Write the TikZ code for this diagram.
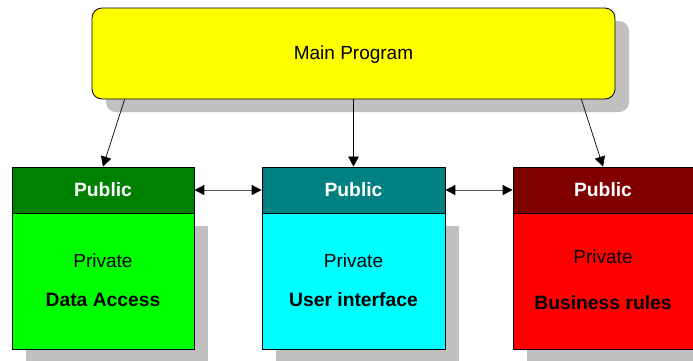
\documentclass[tikz,border=0pt]{standalone}
\usepackage{fontspec}
\setmainfont{Liberation Sans}
\usetikzlibrary{arrows.meta}
\definecolor{shadowgray}{HTML}{C0C0C0}
\definecolor{pubgreen}{HTML}{008000}
\definecolor{privgreen}{HTML}{00FF00}
\definecolor{pubteal}{HTML}{008080}
\definecolor{privcyan}{HTML}{00FFFF}
\definecolor{pubmaroon}{HTML}{800000}
\definecolor{privred}{HTML}{FF0000}
\definecolor{mainyellow}{HTML}{FFFF00}
\definecolor{linegray}{HTML}{555555}
\begin{document}
\begin{tikzpicture}[x=1pt,y=-1pt,
  every node/.style={font=\fontsize{19}{22}\selectfont},
  mainbox/.style={draw=black,line width=0.8pt,fill=mainyellow,rounded corners=10pt,minimum width=523pt,minimum height=91pt,inner sep=0pt},
  pubbox/.style={draw=black,line width=0.8pt,minimum width=182pt,minimum height=46pt,inner sep=0pt,text=white,font=\fontsize{19.3}{22}\selectfont\bfseries},
  privbox/.style={draw=black,line width=0.8pt,minimum width=182pt,minimum height=136pt,inner sep=0pt,anchor=north},
  txt/.style={inner sep=0pt},
  titletxt/.style={inner sep=0pt,font=\fontsize{19.3}{22}\selectfont\bfseries},
  arr/.style={-{Triangle[length=10pt,width=10.5pt]},line width=0.7pt,black},
  darr/.style={{Triangle[length=10pt,width=10pt,black]}-{Triangle[length=10pt,width=10pt,black]},line width=0.9pt,draw=linegray}]
\useasboundingbox (0,0) rectangle (693,360);
% shadows
\fill[shadowgray,rounded corners=10pt] (106,21) rectangle (629,112);
\fill[shadowgray] (26,226) rectangle (208,363);
\fill[shadowgray] (276,226) rectangle (459,363);
\fill[shadowgray] (527,226) rectangle (706,363);
% main
\node[mainbox] (main) at (353.5,53.5) {};
\node[txt] (maintxt) at (353.5,54.5) {Main Program};
% headers
\node[pubbox,fill=pubgreen] (pubA) at (103,190) {Public};
\node[pubbox,fill=pubteal,minimum width=183pt] (pubB) at (353.5,190) {Public};
\node[pubbox,fill=pubmaroon,minimum width=180pt] (pubC) at (603,190) {Public};
% bodies
\node[privbox,fill=privgreen] (privA) at (pubA.south) {};
\node[privbox,fill=privcyan,minimum width=183pt] (privB) at (pubB.south) {};
\node[privbox,fill=privred,minimum width=180pt] (privC) at (pubC.south) {};
% texts
\node[txt] (pA) at (103,261) {Private};
\node[titletxt] (tA) at (103,300) {Data Access};
\node[txt] (pB) at (353.5,261) {Private};
\node[titletxt] (tB) at (353.5,300) {User interface};
\node[txt] (pC) at (603,257) {Private};
\node[titletxt] (tC) at (603,303) {Business rules};
% arrows
\draw[arr] ([xshift=33pt]main.south west) -- (pubA.north);
\draw[arr] (main.south) -- (pubB.north);
\draw[arr] ([xshift=-34pt]main.south east) -- (pubC.north);
\draw[darr] (pubA.east) -- (pubB.west);
\draw[darr] (pubB.east) -- (pubC.west);
\end{tikzpicture}
\end{document}
